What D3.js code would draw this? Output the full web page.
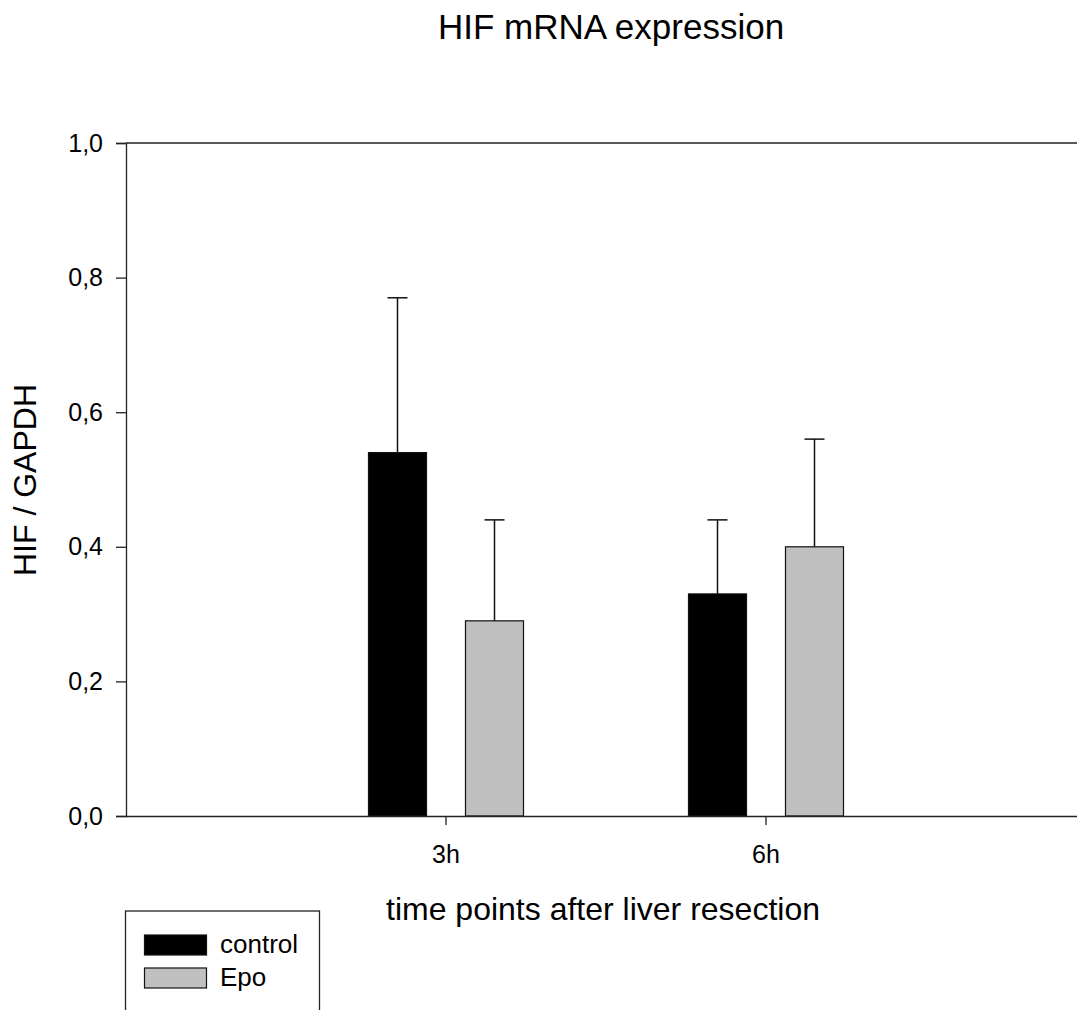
<!DOCTYPE html>
<html>
<head>
<meta charset="utf-8">
<script src="https://cdn.jsdelivr.net/npm/d3@7"></script>
<style>
  html, body { margin: 0; padding: 0; background: #fff; }
  svg { display: block; font-family: "Liberation Sans", Arial, sans-serif; }
</style>
</head>
<body>
<svg id="chart" width="1077" height="1010"></svg>
<script>
const categories = ["3h", "6h"];
const seriesNames = ["control", "Epo"];
const controlValues = [0.54, 0.33];
const controlErrors = [0.23, 0.11];
const epoValues = [0.29, 0.40];
const epoErrors = [0.15, 0.16];
const yTickValues = [0, 0.2, 0.4, 0.6, 0.8, 1.0];
const yTickLabels = ["0,0", "0,2", "0,4", "0,6", "0,8", "1,0"];
const seriesColors = ["#000000", "#c0c0c0"];

(function () {
const svg = d3.select("#chart");
const mLeft = 126, mRight = 1086, mTop = 143, mBottom = 816;

const x0 = d3.scaleBand().domain(categories).range([mLeft, mRight]).paddingInner(0).paddingOuter(0.5);
const x1 = d3.scaleBand().domain(seriesNames).range([82.5, 237.5]).paddingInner(0.402).paddingOuter(0);
const y = d3.scaleLinear().domain([0, 1]).range([mBottom, mTop]);

const data = [];
categories.forEach((c, i) => {
  data.push({cat: c, s: "control", v: controlValues[i], e: controlErrors[i]});
  data.push({cat: c, s: "Epo", v: epoValues[i], e: epoErrors[i]});
});
const color = d3.scaleOrdinal().domain(seriesNames).range(seriesColors);

// top frame line
svg.append("line").attr("x1", mLeft).attr("x2", 1077).attr("y1", y(1)).attr("y2", y(1))
  .attr("stroke", "#222").attr("stroke-width", 1.3);

// y axis
const yAxis = d3.axisLeft(y).tickValues(yTickValues)
  .tickFormat((d, i) => yTickLabels[i]).tickSizeOuter(0).tickSize(10).tickPadding(13);
const gy = svg.append("g").attr("transform", `translate(${mLeft},0)`).call(yAxis);
gy.select(".domain").attr("stroke", "#222").attr("stroke-width", 1.3);
gy.selectAll(".tick line").attr("stroke", "#222").attr("stroke-width", 1.3);
gy.selectAll(".tick text").attr("font-size", 25).attr("fill", "#000")
  .attr("font-family", "Liberation Sans, Arial, sans-serif");

// error bars (upper only)
const gErr = svg.append("g");
data.forEach(d => {
  const cx = x0(d.cat) + x1(d.s) + x1.bandwidth() / 2;
  gErr.append("line").attr("x1", cx).attr("x2", cx).attr("y1", y(d.v)).attr("y2", y(d.v + d.e))
    .attr("stroke", "#111").attr("stroke-width", 1.5);
  gErr.append("line").attr("x1", cx - 10).attr("x2", cx + 10).attr("y1", y(d.v + d.e)).attr("y2", y(d.v + d.e))
    .attr("stroke", "#111").attr("stroke-width", 1.5);
});

// bars
svg.append("g").selectAll("rect").data(data).join("rect")
  .attr("x", d => x0(d.cat) + x1(d.s))
  .attr("width", x1.bandwidth())
  .attr("y", d => y(d.v))
  .attr("height", d => y(0) - y(d.v))
  .attr("fill", d => color(d.s))
  .attr("stroke", "#111").attr("stroke-width", 1.2);

// x axis
const xAxis = d3.axisBottom(x0).tickSize(9).tickSizeOuter(0).tickPadding(20);
const gx = svg.append("g").attr("transform", `translate(0,${mBottom})`).call(xAxis);
gx.select(".domain").attr("stroke", "#222").attr("stroke-width", 1.3);
gx.selectAll(".tick line").attr("stroke", "#222").attr("stroke-width", 1.3);
gx.selectAll(".tick text").attr("font-size", 25).attr("fill", "#000")
  .attr("font-family", "Liberation Sans, Arial, sans-serif");

// title
svg.append("text").attr("x", 611).attr("y", 39).attr("text-anchor", "middle")
  .attr("font-size", 35).text("HIF mRNA expression");

// axis labels
svg.append("text").attr("x", 603).attr("y", 920).attr("text-anchor", "middle")
  .attr("font-size", 32).text("time points after liver resection");
svg.append("text").attr("transform", "translate(36,480) rotate(-90)").attr("text-anchor", "middle")
  .attr("font-size", 32).text("HIF / GAPDH");

// legend
const lg = svg.append("g");
lg.append("rect").attr("x", 125.5).attr("y", 911).attr("width", 194).attr("height", 120)
  .attr("fill", "#fff").attr("stroke", "#222").attr("stroke-width", 1.3);
seriesNames.forEach((s, i) => {
  lg.append("rect").attr("x", 144.5).attr("y", 935 + i * 33).attr("width", 62).attr("height", 20)
    .attr("fill", color(s)).attr("stroke", "#111").attr("stroke-width", 1.2);
  lg.append("text").attr("x", 220).attr("y", 953 + i * 33).attr("font-size", 26).text(s);
});
})();
</script>
</body>
</html>
